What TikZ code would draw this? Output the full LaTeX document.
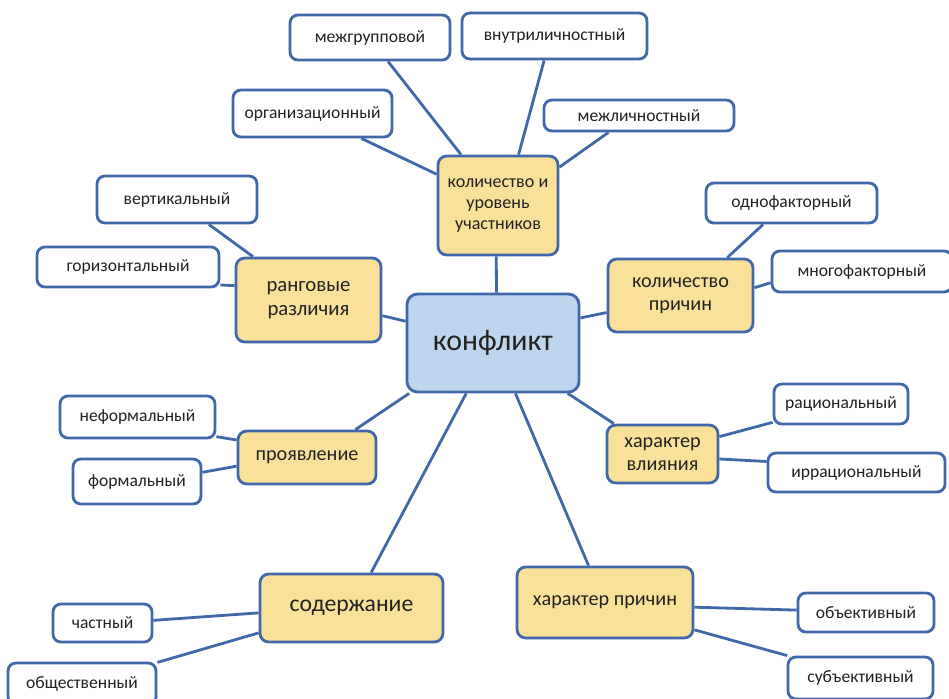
\documentclass[tikz,border=0pt]{standalone}
\usepackage{fontspec}
\setmainfont{Carlito}
\usetikzlibrary{backgrounds}
\definecolor{edgeblue}{RGB}{65,105,170}
\definecolor{mainfill}{RGB}{189,214,238}
\definecolor{catfill}{RGB}{249,225,154}
\definecolor{txt}{RGB}{34,34,34}
\begin{document}
\begin{tikzpicture}[x=0.02cm,y=-0.02cm,
    box/.style 2 args={minimum width=#1*0.02cm,minimum height=#2*0.02cm,
      inner sep=0pt,align=center,draw=edgeblue,line width=1.6pt,text=txt},
    main/.style={rounded corners=6pt,fill=mainfill,font=\fontsize{17}{20}\selectfont},
    cat/.style={rounded corners=5pt,fill=catfill,font=\fontsize{11.5}{13.2}\selectfont},
    leaf/.style={rounded corners=4.5pt,fill=white,font=\fontsize{10}{12}\selectfont},
    link/.style={draw=edgeblue,line width=1.6pt}]

\useasboundingbox (0,0) rectangle (949,698);

% centre
\node[box={172}{98},main] (konf) at (493,343) {конфликт};

% categories
\node[box={120}{99},cat,font=\fontsize{10.3}{11.8}\selectfont] (kol) at (498,205.5) {количество и\\уровень\\участников};
\node[box={145}{84},cat,font=\fontsize{11.8}{13.8}\selectfont] (rang) at (308.5,300) {ранговые\\различия};
\node[box={145}{73},cat] (kolp) at (680.5,295.5) {количество\\причин};
\node[box={111}{58},cat] (harv) at (662.5,454) {характер\\влияния};
\node[box={138}{53},cat] (proj) at (307,457.5) {проявление};
\node[box={183}{68},cat,font=\fontsize{13.5}{16}\selectfont] (soder) at (351.5,608) {содержание};
\node[box={176}{71},cat] (harp) at (605,602.5) {характер причин};

% leaves
\node[box={160}{45},leaf] (mezhgr) at (370,37.5) {межгрупповой};
\node[box={185}{46},leaf] (vnutr) at (554.5,36) {внутриличностный};
\node[box={159}{47},leaf] (org) at (312.5,113.5) {организационный};
\node[box={190}{31},leaf] (mezhl) at (639,115.5) {межличностный};
\node[box={160}{47},leaf] (vert) at (177,199.5) {вертикальный};
\node[box={182}{40},leaf] (goriz) at (128,267) {горизонтальный};
\node[box={171}{40},leaf] (odno) at (791.5,203) {однофакторный};
\node[box={180}{41},leaf] (mnogo) at (862,271.5) {многофакторный};
\node[box={134}{40},leaf] (rac) at (841,404) {рациональный};
\node[box={177}{39},leaf] (irrac) at (856.5,472.5) {иррациональный};
\node[box={155}{42},leaf] (neform) at (137.5,417) {неформальный};
\node[box={128}{45},leaf] (form) at (137,481.5) {формальный};
\node[box={99}{38},leaf] (chast) at (102.5,623) {частный};
\node[box={148}{42},leaf] (obshch) at (82,684) {общественный};
\node[box={136}{39},leaf] (obj) at (866,612.5) {объективный};
\node[box={145}{42},leaf] (subj) at (860.5,678) {субъективный};

\begin{scope}[on background layer]
\draw[link] (konf.86.5) -- (kol.268.9);
\draw[link] (konf.166.3) -- (rang.348.3);
\draw[link] (konf.16.2) -- (kolp.193.6);
\draw[link] (konf.211.5) -- (proj.30.5);
\draw[link] (konf.242) -- (soder.61.4);
\draw[link] (konf.294.2) -- (harp.114.3);
\draw[link] (konf.326.8) -- (harv.148.6);

\draw[link] (kol.126) -- (mezhgr.307.1);
\draw[link] (kol.68) -- (vnutr.247.6);
\draw[link] (kol.153) -- (org.333.7);
\draw[link] (kol.32) -- (mezhl.209.9);

\draw[link] (rang.142.9) -- (vert.322.8);
\draw[link] (rang.169.8) -- (goriz.349.4);

\draw[link] (kolp.39.4) -- (odno.217);
\draw[link] (kolp.6.7) -- (mnogo.187.3);

\draw[link] (harv.17) -- (rac.195);
\draw[link] (harv.355.9) -- (irrac.173.9);

\draw[link] (proj.166.6) -- (neform.346.9);
\draw[link] (proj.187.8) -- (form.8.4);

\draw[link] (soder.183.1) -- (chast.3.5);
\draw[link] (soder.195.3) -- (obshch.16.6);

\draw[link] (harp.357.1) -- (obj.178.7);
\draw[link] (harp.343.2) -- (subj.163.8);
\end{scope}
\end{tikzpicture}
\end{document}
